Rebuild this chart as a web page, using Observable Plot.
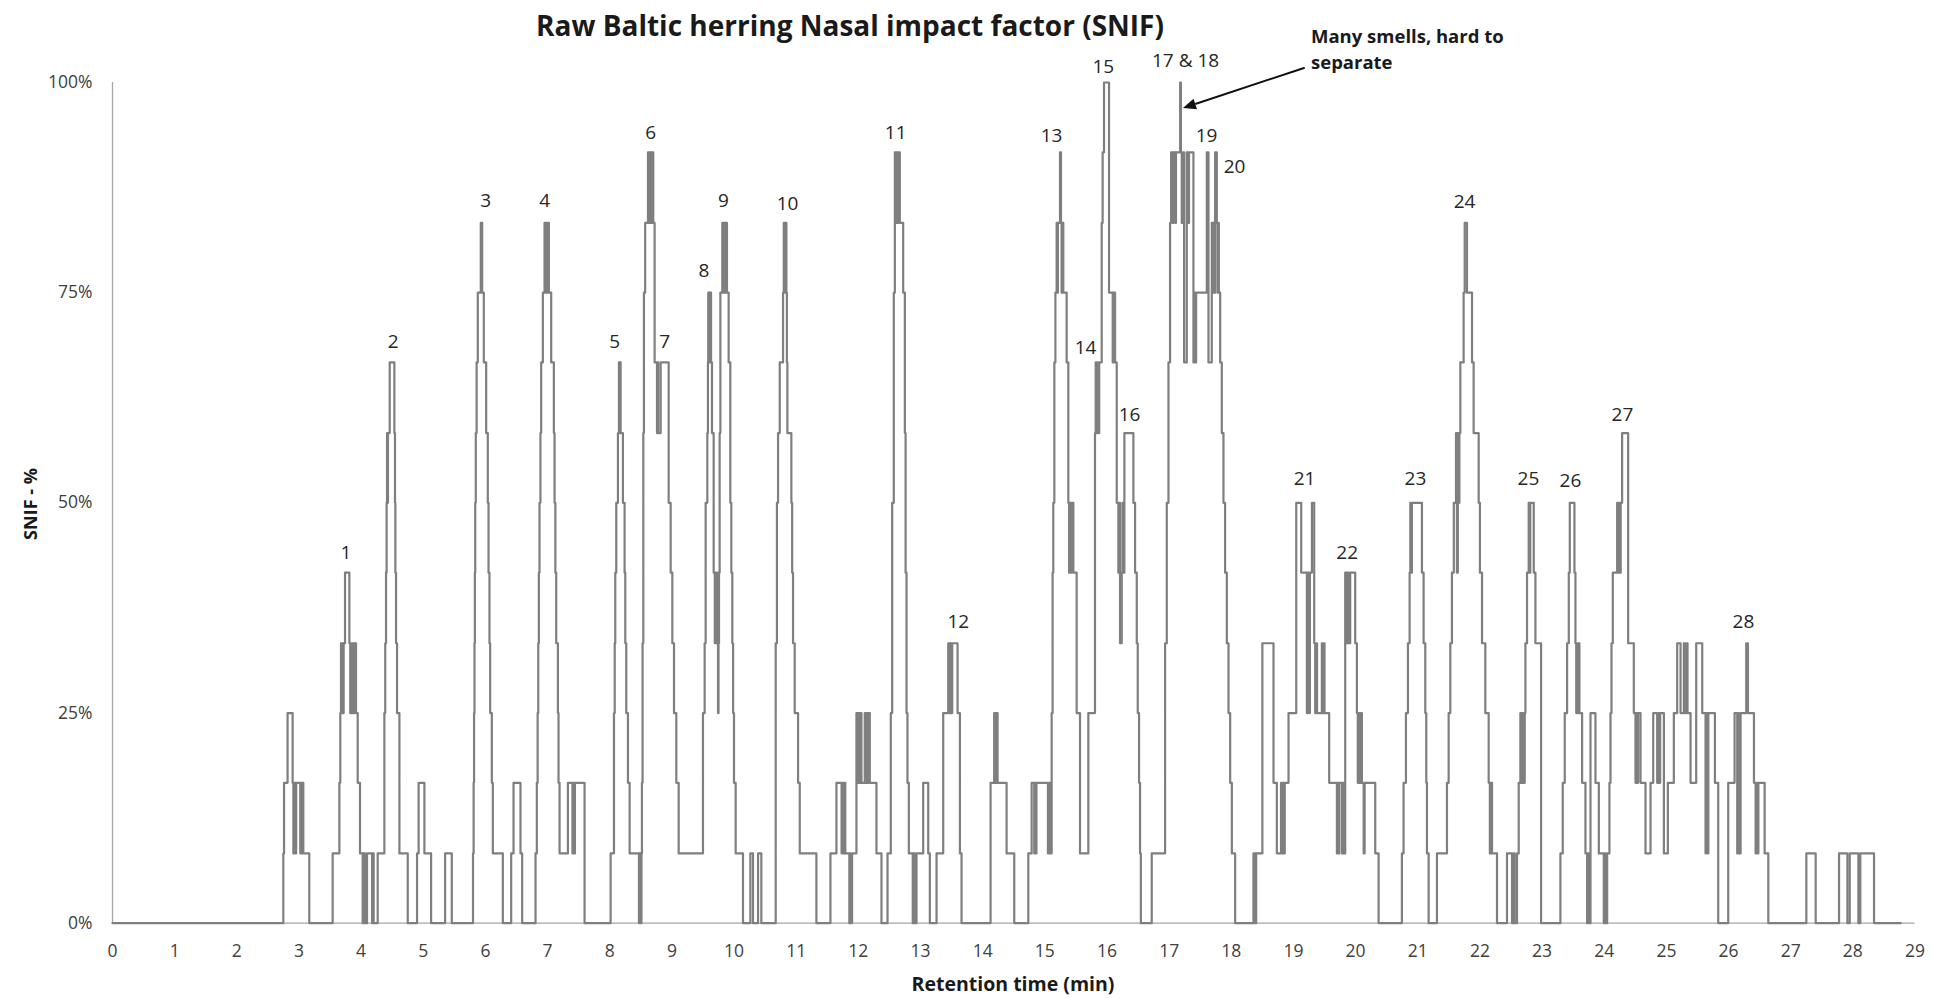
<!DOCTYPE html>
<html><head><meta charset="utf-8">
<script src="https://cdn.jsdelivr.net/npm/d3@7"></script>
<script src="https://cdn.jsdelivr.net/npm/@observablehq/plot@0.6"></script>
<style>
html,body{margin:0;padding:0;background:#fff;}
#chart svg{display:block;}
</style></head><body><div id="chart"></div>
<script>
// Retention time (min) at which the SNIF value changes (step-after)
const retentionTime = [
  0, 2.748, 2.76, 2.817, 2.898, 2.91, 2.925, 2.94, 2.955, 3.021, 3.038, 3.054, 3.062, 3.07, 3.166,
  3.542, 3.65, 3.665, 3.676, 3.687, 3.698, 3.709, 3.719, 3.741, 3.811, 3.825, 3.837, 3.85, 3.864, 3.877, 3.891, 3.918, 3.945, 3.982, 4.025, 4.033, 4.041, 4.05, 4.063, 4.095, 4.176, 4.188, 4.202,
  4.267, 4.374, 4.388, 4.401, 4.41, 4.417, 4.425, 4.432, 4.46, 4.535, 4.545, 4.551, 4.562, 4.578, 4.616, 4.75, 4.9, 4.925, 5.018, 5.126, 5.351, 5.459,
  5.8, 5.81, 5.817, 5.824, 5.83, 5.836, 5.845, 5.858, 5.877, 5.925, 5.947, 5.974, 6.012, 6.038, 6.05, 6.065, 6.076, 6.103, 6.119, 6.28, 6.414, 6.452, 6.564, 6.591,
  6.806, 6.827, 6.84, 6.85, 6.86, 6.87, 6.885, 6.897, 6.924, 6.951, 6.96, 6.97, 6.98, 6.99, 7.0, 7.01, 7.021, 7.058, 7.101, 7.112, 7.125, 7.139, 7.166, 7.176, 7.193, 7.327, 7.4, 7.41, 7.43, 7.44, 7.595,
  8.014, 8.068, 8.08, 8.089, 8.105, 8.132, 8.148, 8.155, 8.162, 8.175, 8.212, 8.239, 8.25, 8.266, 8.293, 8.32, 8.47, 8.478, 8.486, 8.494, 8.502, 8.51,
  8.518, 8.528, 8.54, 8.55, 8.57, 8.615, 8.625, 8.635, 8.645, 8.655, 8.675, 8.685, 8.7, 8.722, 8.76, 8.77, 8.78, 8.819, 8.948, 8.98, 9.007, 9.034, 9.071, 9.109,
  9.5, 9.527, 9.543, 9.57, 9.58, 9.585, 9.595, 9.6, 9.61, 9.62, 9.63, 9.645, 9.672, 9.69, 9.7, 9.715, 9.73, 9.742, 9.75, 9.758, 9.768, 9.78, 9.811, 9.82, 9.83, 9.849, 9.86, 9.886, 9.913, 9.94, 9.956, 9.972, 9.985, 9.999, 10.026, 10.144,
  10.262, 10.305, 10.386, 10.439, 10.67, 10.69, 10.708, 10.735, 10.788, 10.8, 10.815, 10.83, 10.842, 10.85, 10.858, 10.922, 10.935, 10.949, 10.976, 11.03, 11.057, 11.325,
  11.551, 11.647, 11.73, 11.745, 11.76, 11.775, 11.79, 11.855, 11.87, 11.88, 11.899, 11.969, 11.985, 12.0, 12.015, 12.03, 12.05, 12.103, 12.12, 12.135, 12.15, 12.165, 12.184, 12.291, 12.372, 12.469,
  12.522, 12.544, 12.57, 12.587, 12.6, 12.612, 12.625, 12.64, 12.667, 12.721, 12.748, 12.76, 12.775, 12.79, 12.812, 12.875, 12.885, 12.895, 12.905, 12.915, 12.936, 13.043, 13.124, 13.15,
  13.258, 13.365, 13.446, 13.46, 13.47, 13.48, 13.49, 13.5, 13.51, 13.596, 13.634, 13.66,
  14.127, 14.185, 14.2, 14.21, 14.22, 14.23, 14.24, 14.385, 14.508, 14.734, 14.788, 14.83, 14.845, 14.855, 14.865, 15.05, 15.065, 15.085,
  15.11, 15.125, 15.136, 15.153, 15.17, 15.19, 15.2, 15.21, 15.244, 15.26, 15.27, 15.28, 15.297, 15.351, 15.378, 15.39, 15.4, 15.415, 15.43, 15.459, 15.512, 15.566, 15.7, 15.807, 15.818, 15.83, 15.845, 15.86, 15.875, 15.915, 15.93, 15.952,
  16.033, 16.092, 16.1, 16.11, 16.12, 16.13, 16.157, 16.183, 16.2, 16.21, 16.237, 16.25, 16.264, 16.28, 16.425, 16.452, 16.479, 16.495, 16.516, 16.532, 16.545,
  16.72, 16.935, 16.962, 16.989, 17.015, 17.032, 17.06, 17.07, 17.1, 17.11, 17.177, 17.19, 17.203, 17.22, 17.241, 17.284, 17.31, 17.32, 17.391, 17.41, 17.42, 17.434, 17.606, 17.633, 17.686, 17.7, 17.71, 17.72, 17.74, 17.767, 17.78, 17.79, 17.8, 17.821, 17.847, 17.874, 17.9, 17.928, 17.955, 17.982, 18.009, 18.062,
  18.357, 18.365, 18.38, 18.39, 18.4, 18.5, 18.679, 18.733, 18.8, 18.81, 18.83, 18.84, 18.86, 18.921, 19.045, 19.125, 19.216, 19.23, 19.25, 19.265, 19.297, 19.334, 19.35, 19.365, 19.38, 19.457, 19.47, 19.49, 19.5, 19.575, 19.699, 19.71, 19.72, 19.736, 19.779, 19.79, 19.8, 19.833, 19.85, 19.86, 19.886, 19.913, 19.994, 20.021, 20.035, 20.05, 20.06, 20.075, 20.101, 20.13, 20.145, 20.316, 20.37,
  20.745, 20.772, 20.81, 20.842, 20.869, 20.88, 20.89, 20.906, 21.067, 21.094, 21.121, 21.137, 21.148, 21.175, 21.309, 21.47, 21.497, 21.524, 21.55, 21.58, 21.615, 21.63, 21.645, 21.66, 21.67, 21.685, 21.738, 21.755, 21.792, 21.873, 21.899, 21.98, 22.0, 22.034, 22.087, 22.141, 22.16, 22.17, 22.195, 22.275,
  22.436, 22.517, 22.544, 22.56, 22.597, 22.624, 22.651, 22.67, 22.69, 22.7, 22.721, 22.732, 22.758, 22.785, 22.8, 22.81, 22.866, 22.893, 22.984,
  23.295, 23.333, 23.365, 23.403, 23.43, 23.446, 23.521, 23.537, 23.55, 23.565, 23.58, 23.591, 23.601, 23.644, 23.698, 23.725, 23.74, 23.752, 23.779, 23.859, 23.913, 23.993, 24.01, 24.025, 24.047, 24.084, 24.101, 24.117, 24.138, 24.208, 24.22, 24.235, 24.25, 24.265, 24.288, 24.385,
  24.476, 24.503, 24.515, 24.53, 24.545, 24.584, 24.664, 24.745, 24.788, 24.852, 24.87, 24.885, 24.9, 24.96, 25.024, 25.12, 25.174, 25.228, 25.281, 25.3, 25.32, 25.34, 25.389, 25.48, 25.577, 25.63, 25.64, 25.668, 25.675, 25.781, 25.834, 25.995, 26.097, 26.14, 26.16, 26.17, 26.194, 26.285, 26.312, 26.409, 26.436, 26.45, 26.463, 26.48, 26.581, 26.64,
  27.252, 27.402, 27.778, 27.912, 27.95, 28.089, 28.12, 28.341, 28.77
];
// SNIF (%) held from each retention time until the next
const snifPercent = [
  0, 8.3, 16.7, 25, 16.7, 8.3, 16.7, 8.3, 16.7, 8.3, 16.7, 8.3, 16.7, 8.3, 0,
  8.3, 16.7, 25, 33.3, 25, 33.3, 25, 33.3, 41.7, 33.3, 25, 33.3, 25, 33.3, 25, 33.3, 25, 16.7, 8.3, 0, 8.3, 0, 8.3, 0, 8.3, 0, 8.3, 0,
  8.3, 25, 33.3, 41.7, 50, 58.3, 50, 58.3, 66.7, 58.3, 50, 41.7, 33.3, 25, 8.3, 0, 8.3, 16.7, 8.3, 0, 8.3, 0,
  8.3, 16.7, 25, 33.3, 41.7, 50, 58.3, 66.7, 75, 83.3, 75, 66.7, 58.3, 50, 41.7, 33.3, 25, 16.7, 8.3, 0, 8.3, 16.7, 8.3, 0,
  8.3, 16.7, 25, 33.3, 41.7, 50, 58.3, 66.7, 75, 83.3, 75, 83.3, 75, 83.3, 75, 83.3, 75, 66.7, 58.3, 50, 41.7, 33.3, 25, 16.7, 8.3, 16.7, 8.3, 16.7, 8.3, 16.7, 0,
  8.3, 25, 33.3, 41.7, 50, 58.3, 66.7, 58.3, 66.7, 58.3, 50, 41.7, 33.3, 25, 16.7, 8.3, 0, 8.3, 0, 8.3, 0, 8.3,
  16.7, 33.3, 58.3, 75, 83.3, 91.7, 83.3, 91.7, 83.3, 91.7, 83.3, 91.7, 83.3, 66.7, 58.3, 66.7, 58.3, 66.7, 50, 41.7, 33.3, 25, 16.7, 8.3,
  25, 33.3, 50, 58.3, 66.7, 75, 66.7, 75, 66.7, 75, 66.7, 58.3, 41.7, 33.3, 41.7, 33.3, 41.7, 25, 33.3, 41.7, 58.3, 75, 83.3, 75, 83.3, 75, 83.3, 75, 66.7, 50, 41.7, 33.3, 25, 16.7, 8.3, 0,
  8.3, 0, 8.3, 0, 33.3, 50, 58.3, 66.7, 75, 83.3, 75, 83.3, 75, 66.7, 58.3, 50, 41.7, 33.3, 25, 16.7, 8.3, 0,
  8.3, 16.7, 8.3, 16.7, 8.3, 16.7, 8.3, 0, 8.3, 0, 8.3, 25, 16.7, 25, 16.7, 25, 16.7, 25, 16.7, 25, 16.7, 25, 16.7, 8.3, 0, 8.3,
  25, 50, 75, 91.7, 83.3, 91.7, 83.3, 91.7, 83.3, 75, 58.3, 41.7, 25, 16.7, 8.3, 0, 8.3, 0, 8.3, 0, 8.3, 16.7, 8.3, 0,
  8.3, 25, 33.3, 25, 33.3, 25, 33.3, 25, 33.3, 25, 8.3, 0,
  16.7, 25, 16.7, 25, 16.7, 25, 16.7, 8.3, 0, 8.3, 16.7, 8.3, 16.7, 8.3, 16.7, 8.3, 16.7, 8.3,
  25, 41.7, 50, 66.7, 75, 83.3, 75, 83.3, 91.7, 83.3, 75, 83.3, 75, 66.7, 50, 41.7, 50, 41.7, 50, 41.7, 25, 8.3, 25, 58.3, 66.7, 58.3, 66.7, 58.3, 66.7, 83.3, 91.7, 100,
  75, 66.7, 75, 66.7, 75, 66.7, 50, 41.7, 50, 33.3, 41.7, 50, 41.7, 58.3, 50, 41.7, 33.3, 25, 16.7, 8.3, 0,
  8.3, 33.3, 50, 66.7, 83.3, 91.7, 83.3, 91.7, 83.3, 91.7, 100, 91.7, 83.3, 91.7, 66.7, 91.7, 83.3, 91.7, 66.7, 75, 66.7, 75, 91.7, 66.7, 83.3, 75, 83.3, 75, 91.7, 83.3, 75, 83.3, 75, 66.7, 58.3, 50, 41.7, 33.3, 25, 16.7, 8.3, 0,
  8.3, 0, 8.3, 0, 8.3, 33.3, 16.7, 8.3, 16.7, 8.3, 16.7, 8.3, 16.7, 25, 50, 41.7, 25, 41.7, 25, 41.7, 50, 33.3, 25, 33.3, 25, 33.3, 25, 33.3, 25, 16.7, 8.3, 16.7, 8.3, 16.7, 8.3, 16.7, 8.3, 41.7, 33.3, 41.7, 33.3, 41.7, 33.3, 25, 16.7, 25, 16.7, 25, 16.7, 8.3, 16.7, 8.3, 0,
  8.3, 16.7, 25, 33.3, 41.7, 50, 41.7, 50, 41.7, 33.3, 25, 16.7, 8.3, 0, 8.3, 16.7, 25, 33.3, 41.7, 50, 58.3, 41.7, 58.3, 50, 58.3, 66.7, 75, 83.3, 75, 66.7, 58.3, 50, 41.7, 33.3, 25, 16.7, 8.3, 16.7, 8.3, 0,
  8.3, 0, 8.3, 0, 8.3, 16.7, 25, 16.7, 25, 16.7, 25, 33.3, 41.7, 50, 41.7, 50, 41.7, 33.3, 0,
  8.3, 16.7, 25, 33.3, 41.7, 50, 41.7, 33.3, 25, 33.3, 25, 33.3, 25, 16.7, 8.3, 0, 8.3, 0, 25, 16.7, 8.3, 0, 8.3, 0, 8.3, 16.7, 25, 33.3, 41.7, 50, 41.7, 50, 41.7, 50, 58.3, 33.3,
  25, 16.7, 25, 16.7, 25, 16.7, 8.3, 16.7, 25, 16.7, 25, 16.7, 25, 8.3, 16.7, 25, 33.3, 25, 33.3, 25, 33.3, 25, 16.7, 33.3, 25, 8.3, 25, 8.3, 25, 16.7, 0, 16.7, 25, 8.3, 25, 8.3, 25, 33.3, 25, 16.7, 8.3, 16.7, 8.3, 16.7, 8.3, 0,
  8.3, 0, 8.3, 0, 8.3, 0, 8.3, 0, 0
];

// Peak labels (odour numbers) and where they sit
const peakNames = ["1","2","3","4","5","6","7","8","9","10","11","12","13","14","15","16","17 & 18","19","20","21","22","23","24","25","26","27","28"];
const peakLabelTime = [3.757, 4.514, 6.005, 6.953, 8.079, 8.659, 8.884, 9.516, 9.828, 10.86, 12.6, 13.607, 15.109, 15.655, 15.94, 16.363, 17.264, 17.602, 18.053, 19.179, 19.865, 20.963, 21.752, 22.781, 23.457, 24.293, 26.24];
const peakLabelPercent = [44.1, 69.2, 85.9, 85.9, 69.2, 94, 69.2, 77.6, 85.9, 85.6, 94, 35.8, 93.6, 68.4, 101.9, 60.5, 102.6, 93.6, 90, 52.8, 44, 52.8, 85.8, 52.8, 52.6, 60.5, 35.8];

const xTickValues = [0,1,2,3,4,5,6,7,8,9,10,11,12,13,14,15,16,17,18,19,20,21,22,23,24,25,26,27,28,29];
const yTickValues = [0, 25, 50, 75, 100];

const chartTitle = "Raw Baltic herring Nasal impact factor (SNIF)";
const xTitle = "Retention time (min)";
const yTitle = "SNIF - %";
const noteLines = ["Many smells, hard to", "separate"];
const noteArrowFrom = [19.19, 101.7];
const noteArrowTo = [17.23, 96.9];

const series = retentionTime.map((t, i) => ({t, v: snifPercent[i]}));
const labels = peakNames.map((name, i) => ({name, t: peakLabelTime[i], v: peakLabelPercent[i]}));

const W = 1933, H = 998;
const chart = Plot.plot({
  width: W, height: H,
  marginLeft: 112, marginRight: 18.5, marginTop: 82, marginBottom: 75.3,
  style: {fontFamily: "'Open Sans', sans-serif", fontSize: "17.5px", color: "#404040", background: "#fff", overflow: "visible"},
  x: {domain: [0, 29]},
  y: {domain: [0, 100]},
  marks: [
    Plot.ruleY([0], {stroke: "#a6a6a6", strokeWidth: 1.3}),
    Plot.ruleX([0], {stroke: "#a6a6a6", strokeWidth: 1.3}),
    Plot.line(series, {x: "t", y: "v", curve: "step-after", stroke: "#7f7f7f", strokeWidth: 2.2}),
    Plot.axisX({ticks: xTickValues, tickSize: 0, tickPadding: 21, label: null, fontSize: 17.5, tickFormat: d => String(d)}),
    Plot.axisY({ticks: yTickValues, tickSize: 0, tickPadding: 20, label: null, fontSize: 17.5, tickFormat: d => d + "%"}),
    Plot.text(labels, {x: "t", y: "v", text: "name", fontSize: 19, fill: "#262626"})
  ]
});
document.getElementById("chart").appendChild(chart);

const svg = d3.select(chart);
const xs = chart.scale("x"), ys = chart.scale("y");

// Title
svg.append("text")
  .attr("x", 850).attr("y", 26).attr("dy", "0.35em")
  .attr("text-anchor", "middle")
  .attr("font-family", "'Open Sans', sans-serif")
  .attr("font-size", 28).attr("font-weight", "bold").attr("fill", "#1a1a1a")
  .text(chartTitle);

// Axis titles
svg.append("text")
  .attr("x", 1013).attr("y", 984).attr("dy", "0.35em")
  .attr("text-anchor", "middle")
  .attr("font-family", "'Open Sans', sans-serif")
  .attr("font-size", 19.5).attr("font-weight", "bold").attr("fill", "#1a1a1a")
  .text(xTitle);
svg.append("text")
  .attr("transform", "translate(31,504) rotate(-90)").attr("dy", "0.35em")
  .attr("text-anchor", "middle")
  .attr("font-family", "'Open Sans', sans-serif")
  .attr("font-size", 18).attr("font-weight", "bold").attr("fill", "#1a1a1a")
  .text(yTitle);

// Annotation note
noteLines.forEach((line, i) => {
  svg.append("text")
    .attr("x", 1311).attr("y", 37 + i * 26).attr("dy", "0.35em")
    .attr("text-anchor", "start")
    .attr("font-family", "'Open Sans', sans-serif")
    .attr("font-size", 18.5).attr("font-weight", "bold").attr("fill", "#1a1a1a")
    .text(line);
});

// Arrow (positions through the plot's own scales)
const ax1 = xs.apply(noteArrowFrom[0]), ay1 = ys.apply(noteArrowFrom[1]);
const ax2 = xs.apply(noteArrowTo[0]), ay2 = ys.apply(noteArrowTo[1]);
const ang = Math.atan2(ay2 - ay1, ax2 - ax1);
const headL = 13, headW = 5.5;
const bx = ax2 - headL * Math.cos(ang), by = ay2 - headL * Math.sin(ang);
svg.append("line")
  .attr("x1", ax1).attr("y1", ay1).attr("x2", bx).attr("y2", by)
  .attr("stroke", "#111").attr("stroke-width", 2);
svg.append("polygon")
  .attr("points", [
    [ax2, ay2],
    [bx + headW * Math.sin(ang), by - headW * Math.cos(ang)],
    [bx - headW * Math.sin(ang), by + headW * Math.cos(ang)]
  ].map(p => p.join(",")).join(" "))
  .attr("fill", "#111");
</script>
</body></html>
